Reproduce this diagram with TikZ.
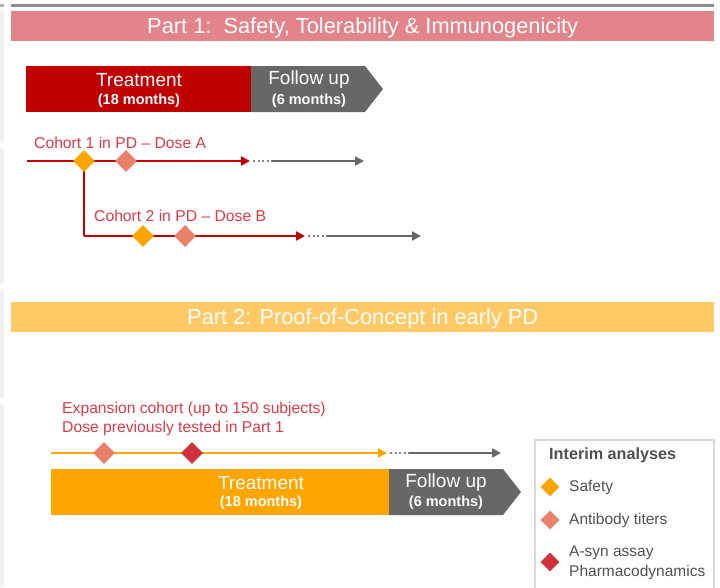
\documentclass[tikz,border=0pt]{standalone}
\usepackage{fontspec}
\setmainfont{Liberation Sans}
\usetikzlibrary{arrows.meta,shapes.geometric}
\definecolor{pone}{HTML}{E2848A}
\definecolor{ptwo}{HTML}{FFC966}
\definecolor{dred}{HTML}{C00000}
\definecolor{boxgray}{HTML}{676767}
\definecolor{lblred}{HTML}{DA3B47}
\definecolor{safe}{HTML}{FFA500}
\definecolor{anti}{HTML}{E8806A}
\definecolor{asyn}{HTML}{D0313D}
\definecolor{legtxt}{HTML}{505050}
\definecolor{stripgray}{HTML}{F0F0F0}
\begin{document}
\begin{tikzpicture}[x=1pt,y=-1pt,
  band/.style={minimum width=703pt, minimum height=30pt, inner sep=0pt, text height=22.5pt, text depth=7.5pt, anchor=north west, text=white, font=\fontsize{21.8}{24}\selectfont},
  dia/.style={diamond, minimum size=22pt, inner sep=0pt},
  ldia/.style={diamond, minimum size=19pt, inner sep=0pt},
  lbl/.style={anchor=west, text=lblred, font=\fontsize{15.7}{18}\selectfont, inner sep=0pt},
  bigt/.style={text=white, font=\fontsize{19}{22}\selectfont, inner sep=0pt},
  smallt/.style={text=white, font=\bfseries\fontsize{14.5}{17}\selectfont, inner sep=0pt},
  legt/.style={anchor=west, text=legtxt, font=\fontsize{15.5}{18}\selectfont, inner sep=0pt},
  tl/.style={line width=2.2pt, -{Triangle[length=9pt,width=9pt]}},
  dots/.style={line width=2.2pt, boxgray!80, dash pattern=on 2pt off 2.5pt},
  gl/.style={line width=2.2pt, boxgray, -{Triangle[length=9pt,width=9pt]}}]
\useasboundingbox (0,0) rectangle (720,587);
% page edge details
\fill[stripgray] (0,9) rectangle (4,143);
\fill[stripgray] (0,149) rectangle (4,283);
\fill[stripgray] (0,289) rectangle (4,398);
\fill[stripgray] (0,404) rectangle (4,587);
\draw[line width=3pt, color=gray!90] (11,5) -- (714,5);
\draw[line width=3pt, color=gray!60] (0,5) -- (4,5);

% Part 1 banner
\node[band, fill=pone] (b1) at (11,11) {Part 1:\ \ Safety, Tolerability \& Immunogenicity};

% Part 1 timeline boxes
\node[fill=dred, minimum width=225pt, minimum height=46pt, inner sep=0pt, anchor=north west] (t1) at (26,66) {};
\fill[boxgray] (251,66) -- (365,66) -- (383,89) -- (365,112) -- (251,112) -- cycle;
\node[bigt] (t1a) at (139,80) {Treatment};
\node[smallt] (t1b) at (139,101) {(18 months)};
\node[bigt] (f1a) at (309,80) {Follow up};
\node[smallt] (f1b) at (309,101) {(6 months)};

% Cohort 1
\node[lbl] (c1lbl) at (34,143) {Cohort 1 in PD -- Dose A};
\coordinate (c1s) at (27,161);
\coordinate (c1e) at (250,161);
\coordinate (c1d) at (272,161);
\coordinate (c1g) at (364,161);
\coordinate (c2e) at (305,236);
\coordinate (c2d) at (327,236);
\coordinate (c2g) at (421,236);
\node[dia] (s1) at (84,161) {};
\node[dia] (a1) at (126,161) {};
\coordinate (c2c) at (84,236);
\draw[dred, line width=2.2pt] (s1.center) -- (c2c);
\draw[tl, dred] (c1s) -- (c1e);
\draw[dots] ([xshift=3pt]c1e) -- (c1d);
\draw[gl] (c1d) -- (c1g);
\draw[tl, dred] (c2c) -- (c2e);
\draw[dots] ([xshift=3pt]c2e) -- (c2d);
\draw[gl] (c2d) -- (c2g);
\node[dia, fill=safe] at (s1) {};
\node[dia, fill=anti] at (a1) {};

% Cohort 2
\node[lbl] (c2lbl) at (94,216) {Cohort 2 in PD -- Dose B};
\node[dia, fill=safe] (s2) at (143,236) {};
\node[dia, fill=anti] (a2) at (185,236) {};

% Part 2 banner
\node[band, fill=ptwo] (b2) at (11,302) {Part 2: Proof-of-Concept in early PD};

% Expansion cohort
\node[lbl] (e1) at (62,409) {Expansion cohort (up to 150 subjects)};
\node[lbl] (e2) at (62,428) {Dose previously tested in Part 1};
\coordinate (xs) at (51,453);
\coordinate (xe) at (387,453);
\coordinate (xd) at (410,453);
\coordinate (xg) at (501,453);
\draw[tl, safe] (xs) -- (xe);
\draw[dots] ([xshift=3pt]xe) -- (xd);
\draw[gl] (xd) -- (xg);
\node[dia, fill=anti] (a3) at (104,453) {};
\node[dia, fill=asyn] (p3) at (192,453) {};

% Part 2 timeline boxes
\node[fill=safe, minimum width=338pt, minimum height=46pt, inner sep=0pt, anchor=north west] (t2) at (51,469) {};
\fill[boxgray] (389,469) -- (503,469) -- (521,492) -- (503,515) -- (389,515) -- cycle;
\node[bigt] (t2a) at (261,483) {Treatment};
\node[smallt] (t2b) at (261,503) {(18 months)};
\node[bigt] (f2a) at (446,483) {Follow up};
\node[smallt] (f2b) at (446,503) {(6 months)};

% Legend
\draw[color=black!15, line width=1.2pt] (535,590) -- (535,440) -- (714,440) -- (714,590);
\node[anchor=west, text=legtxt, font=\bfseries\fontsize{16.2}{18}\selectfont, inner sep=0pt] (lt) at (549,455) {Interim analyses};
\node[ldia, fill=safe] (l1) at (550,487) {};
\node[legt] (l1t) at (569,487) {Safety};
\node[ldia, fill=anti] (l2) at (550,520) {};
\node[legt] (l2t) at (569,520) {Antibody titers};
\node[ldia, fill=asyn] (l3) at (550,562) {};
\node[legt] (l3t) at (569,553) {A-syn assay};
\node[legt] (l3u) at (569,572) {Pharmacodynamics};
\end{tikzpicture}
\end{document}
